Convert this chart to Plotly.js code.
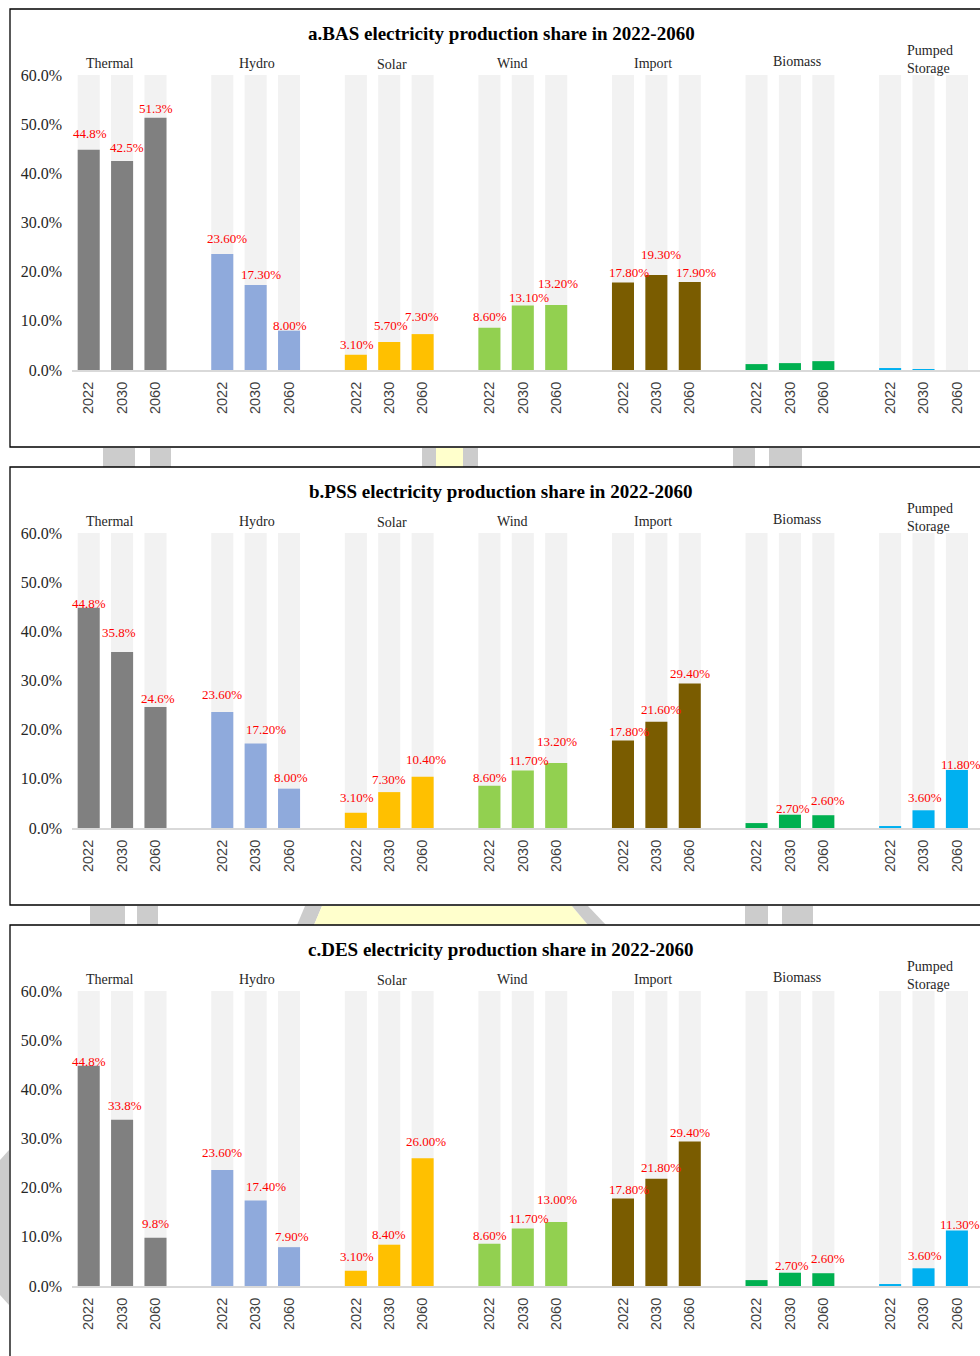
<!DOCTYPE html>
<html>
<head>
<meta charset="utf-8">
<script src="https://cdn.plot.ly/plotly-3.0.1.min.js"></script>
<style>
html,body{margin:0;padding:0;overflow:hidden;background:#fff;}
#chart{width:1010px;height:1400px;}
</style>
</head>
<body>
<div id="chart"></div>
<script>
// ---------------- data ----------------
const categories = ['Thermal', 'Hydro', 'Solar', 'Wind', 'Import', 'Biomass', 'Pumped<br>Storage'];
const years = ['2022', '2030', '2060'];
const panelTitles = [
  'a.BAS electricity production share in 2022-2060',
  'b.PSS electricity production share in 2022-2060',
  'c.DES electricity production share in 2022-2060'
];
const axisMax = 60;
const yTicks = [0, 10, 20, 30, 40, 50, 60];
const yTickText = ['0.0%', '10.0%', '20.0%', '30.0%', '40.0%', '50.0%', '60.0%'];

// values (%) per category: [2022, 2030, 2060]
const basValues = [[44.8, 42.5, 51.3], [23.6, 17.3, 8.0], [3.1, 5.7, 7.3], [8.6, 13.1, 13.2], [17.8, 19.3, 17.9], [1.2, 1.4, 1.8], [0.4, 0.2, 0.0]];
const pssValues = [[44.8, 35.8, 24.6], [23.6, 17.2, 8.0], [3.1, 7.3, 10.4], [8.6, 11.7, 13.2], [17.8, 21.6, 29.4], [1.0, 2.7, 2.6], [0.4, 3.6, 11.8]];
const desValues = [[44.8, 33.8, 9.8], [23.6, 17.4, 7.9], [3.1, 8.4, 26.0], [8.6, 11.7, 13.0], [17.8, 21.8, 29.4], [1.2, 2.7, 2.6], [0.4, 3.6, 11.3]];

// data labels as printed
const basLabels = [['44.8%', '42.5%', '51.3%'], ['23.60%', '17.30%', '8.00%'], ['3.10%', '5.70%', '7.30%'], ['8.60%', '13.10%', '13.20%'], ['17.80%', '19.30%', '17.90%'], ['', '', ''], ['', '', '']];
const pssLabels = [['44.8%', '35.8%', '24.6%'], ['23.60%', '17.20%', '8.00%'], ['3.10%', '7.30%', '10.40%'], ['8.60%', '11.70%', '13.20%'], ['17.80%', '21.60%', '29.40%'], ['', '2.70%', '2.60%'], ['', '3.60%', '11.80%']];
const desLabels = [['44.8%', '33.8%', '9.8%'], ['23.60%', '17.40%', '7.90%'], ['3.10%', '8.40%', '26.00%'], ['8.60%', '11.70%', '13.00%'], ['17.80%', '21.80%', '29.40%'], ['', '2.70%', '2.60%'], ['', '3.60%', '11.30%']];

// ---------------- style ----------------
const catColors = ['#808080', '#8faadc', '#ffc000', '#92d050', '#7a5c00', '#00b050', '#00b0f0'];
const bgColor = '#f2f2f2';
const serif = '"Liberation Serif", "Times New Roman", serif';
const sans = '"Liberation Sans", Arial, sans-serif';

// label pixel offsets [dx, dy] (manual label placement in the original)
const basOff = [[[1,-16],[5,-14],[1,-9]], [[5,-15],[5,-10],[1,-5]], [[1,-10],[2,-16],[-1,-18]], [[1,-11],[6,-8],[2,-22]], [[6,-10],[5,-21],[6,-9]], [[0,0],[0,0],[0,0]], [[0,0],[0,0],[0,0]]];
const pssOff = [[[0,-4],[-3,-19],[3,-9]], [[0,-17],[10,-14],[2,-11]], [[1,-15],[0,-13],[3,-17]], [[1,-8],[6,-10],[1,-22]], [[6,-9],[5,-12],[0,-10]], [[0,0],[3,-6],[5,-15]], [[0,0],[1,-13],[4,-5]]];
const desOff = [[[0,-4],[3,-14],[0,-14]], [[0,-17],[10,-14],[3,-11]], [[1,-14],[0,-10],[3,-17]], [[1,-8],[6,-10],[1,-23]], [[6,-9],[5,-11],[0,-9]], [[0,0],[2,-7],[5,-15]], [[0,0],[1,-13],[3,-6]]];
const catDx = [-12, 1, 3, -10, -3, 7, -19];
const catDy = [-12, -12, -11, -12, -12, -14, -16];

const W = 1010, H = 1400;
const px = x => x / W;
const py = y => 1 - y / H;

const panels = [
  {values: basValues, labels: basLabels, off: basOff, top: 75, bottom: 370, frameTop: 9, frameBottom: 447, titleY: 33},
  {values: pssValues, labels: pssLabels, off: pssOff, top: 533, bottom: 828, frameTop: 467, frameBottom: 905, titleY: 491},
  {values: desValues, labels: desLabels, off: desOff, top: 991, bottom: 1286, frameTop: 925, frameBottom: 1390, titleY: 949}
];

const positions = [], tickText = [];
categories.forEach((c, g) => years.forEach((yr, i) => { positions.push(4 * g + i); tickText.push(yr); }));

const traces = [];
const annotations = [];
const shapes = [];
const layout = {
  width: W, height: H,
  margin: {l: 0, r: 0, t: 0, b: 0},
  paper_bgcolor: '#ffffff', plot_bgcolor: 'rgba(0,0,0,0)',
  showlegend: false, barmode: 'overlay', hovermode: false,
  font: {family: serif, color: '#262626'}
};

panels.forEach((p, k) => {
  const s = k === 0 ? '' : String(k + 1);
  const xa = 'x' + s, ya = 'y' + s;
  const vals = [], cols = [];
  p.values.forEach((triple, g) => triple.forEach(v => { vals.push(v); cols.push(catColors[g]); }));

  traces.push({type: 'bar', x: positions, y: positions.map(() => axisMax), width: 0.66,
    marker: {color: bgColor, line: {width: 0}}, xaxis: xa, yaxis: ya, hoverinfo: 'skip'});
  traces.push({type: 'bar', x: positions, y: vals, width: 0.66,
    marker: {color: cols, line: {width: 0}}, xaxis: xa, yaxis: ya, hoverinfo: 'skip'});

  layout['xaxis' + s] = {
    domain: [px(72), px(1007)], range: [-0.5, 27.5], anchor: ya,
    tickmode: 'array', tickvals: positions, ticktext: tickText, tickangle: -90,
    tickfont: {family: sans, size: 14.5, color: '#404040'},
    showline: true, linecolor: '#d9d9d9', linewidth: 2,
    showgrid: false, zeroline: false, ticks: '', ticklabelstandoff: 4, fixedrange: true
  };
  layout['yaxis' + s] = {
    domain: [py(p.bottom), py(p.top)], range: [0, axisMax], anchor: xa,
    tickmode: 'array', tickvals: yTicks, ticktext: yTickText,
    tickfont: {family: serif, size: 16, color: '#262626'},
    showline: false, showgrid: false, zeroline: false, ticks: '', ticklabelstandoff: 9, fixedrange: true
  };

  // data labels
  p.labels.forEach((triple, g) => triple.forEach((t, i) => {
    if (!t) return;
    annotations.push({xref: xa, yref: ya, x: 4 * g + i, y: p.values[g][i], text: t, showarrow: false,
      xanchor: 'center', yanchor: 'middle', xshift: p.off[g][i][0], yshift: -p.off[g][i][1],
      font: {family: serif, size: 13, color: '#ff0000'}});
  }));

  // category labels
  categories.forEach((c, g) => {
    const last = g === categories.length - 1;
    annotations.push({xref: xa, yref: ya, x: 4 * g + 1, y: axisMax, text: c, showarrow: false,
      xanchor: last ? 'left' : 'center', yanchor: 'middle', align: last ? 'left' : 'center',
      xshift: catDx[g], yshift: -catDy[g],
      font: {family: serif, size: 14, color: '#262626'}});
  });

  // title
  annotations.push({xref: 'paper', yref: 'paper', x: px(501), y: py(p.titleY), text: '<b>' + panelTitles[k] + '</b>',
    showarrow: false, xanchor: 'center', yanchor: 'middle', font: {family: serif, size: 19, color: '#000000'}});

  // panel frame
  shapes.push({type: 'rect', xref: 'paper', yref: 'paper', x0: px(10), x1: px(1030), y0: py(p.frameBottom), y1: py(p.frameTop),
    line: {color: '#000000', width: 1.3}, fillcolor: 'rgba(0,0,0,0)', layer: 'above'});
});

// faint watermark fragments visible in the gaps between panels
const wmGray = '#cccccc', wmYellow = '#ffffcc';
function rectPx(x0, x1, y0, y1, c) {
  shapes.push({type: 'rect', xref: 'paper', yref: 'paper', x0: px(x0), x1: px(x1), y0: py(y1), y1: py(y0),
    fillcolor: c, line: {width: 0}, layer: 'below'});
}
function polyPx(pts, c) {
  const d = 'M ' + pts.map(q => px(q[0]) + ',' + py(q[1])).join(' L ') + ' Z';
  shapes.push({type: 'path', xref: 'paper', yref: 'paper', path: d, fillcolor: c, line: {width: 0}, layer: 'below'});
}
// gap a-b
rectPx(103, 135, 448, 467, wmGray);
rectPx(150, 171, 448, 467, wmGray);
rectPx(422, 436, 448, 467, wmGray);
rectPx(436, 463, 448, 467, wmYellow);
rectPx(463, 478, 448, 467, wmGray);
rectPx(733, 755, 448, 467, wmGray);
rectPx(769, 802, 448, 467, wmGray);
// gap b-c
rectPx(90, 125, 906, 925, wmGray);
rectPx(137, 158, 906, 925, wmGray);
polyPx([[297, 925], [305, 906], [322, 906], [314, 925]], wmGray);
polyPx([[314, 925], [322, 906], [572, 906], [588, 925]], wmYellow);
polyPx([[572, 906], [588, 906], [606, 925], [588, 925]], wmGray);
rectPx(745, 768, 906, 925, wmGray);
rectPx(782, 813, 906, 925, wmGray);
// left edge next to panel c
polyPx([[0, 1160], [9, 1150], [9, 1305], [0, 1295]], wmGray);

layout.annotations = annotations;
layout.shapes = shapes;

Plotly.newPlot('chart', traces, layout, {staticPlot: true, displayModeBar: false});
</script>
</body>
</html>
